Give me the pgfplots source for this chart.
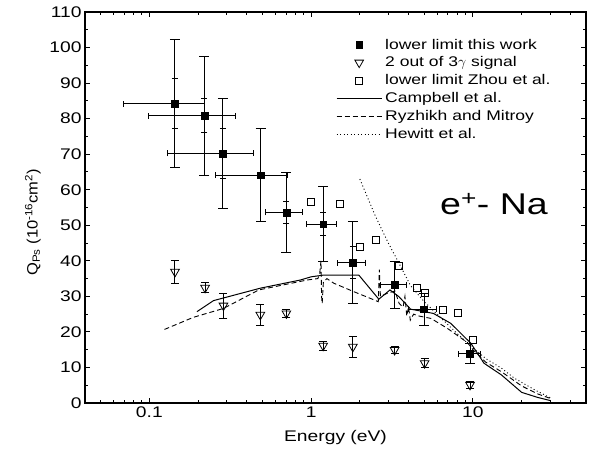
\documentclass[border=0pt]{standalone}
\usepackage{fontspec}
\setmainfont{Liberation Sans}[FakeStretch=1.25]
\newfontfamily\ylfont{Liberation Sans}[FakeStretch=1.1]
\usepackage{pgfplots}
\usepackage{pgfplotstable}
\pgfplotsset{compat=1.18}

% lower limit this work: E, Q, dE, dQ
\pgfplotstableread{
E Q dE dQ
0.144 84.2 0.075 18.0
0.219 80.8 0.120 16.7
0.285 70.2 0.155 15.5
0.487 64.1 0.230 13.0
0.703 53.6 0.180 11.2
1.186 50.3 0.250 10.5
1.81 39.5 0.360 11.6
3.28 33.2 0.600 6.6
4.99 26.4 1.000 4.5
9.6 13.8 1.500 2.8
}\thiswork
% inner (statistical) bars
\pgfplotstableread{
E Q dQ
0.144 84.2 7.0
0.219 80.8 4.8
0.285 70.2 7.0
0.703 53.6 3.0
1.186 50.3 3.2
1.81 39.5 4.5
}\inner
\pgfplotstableread{
E Q dQ
0.144 36.9 3.3
0.221 32.4 1.4
0.287 27.4 3.5
0.485 24.8 3.0
0.703 25.2 1.2
1.186 16.1 1.2
1.81 15.8 2.9
3.28 14.9 1.0
5.03 11.2 1.2
9.6 5.1 1.0
}\threegamma
\pgfplotstableread{
E Q
1.0 56.6
1.5 55.9
2.0 44.0
2.5 45.9
3.49 38.6
4.49 32.5
5.03 30.9
6.54 26.2
8.03 25.4
10.0 17.7
}\zhou

\begin{document}
\begin{tikzpicture}
\path[use as bounding box] (-85pt,-63pt) rectangle (509pt,403pt);
\begin{axis}[
    xmode=log,
    scale only axis,
    width=501pt, height=391pt,
    xmin=0.04, xmax=50,
    ymin=0, ymax=110,
    xtick={0.1,1,10},
    xticklabels={0.1,1,10},
    minor xtick={0.04,0.05,0.06,0.07,0.08,0.09,0.2,0.3,0.4,0.5,0.6,0.7,0.8,0.9,2,3,4,5,6,7,8,9,20,30,40,50},
    ytick={0,10,...,110},
    minor y tick num=1,
    tick pos=both,
    tick align=inside,
    major tick length=5pt,
    minor tick length=3pt,
    every tick/.style={black, line width=1pt},
    axis line style={line width=1.3pt},
    /pgf/number format/assume math mode=true,
    tick label style={font=\fontsize{15.4}{17}\selectfont},
    label style={font=\fontsize{15.4}{17}\selectfont},
    xlabel={Energy (eV)},
    ylabel={Q\textsubscript{Ps} (10\textsuperscript{-16}cm\textsuperscript{2})},
    xlabel style={at={(axis description cs:0.5,-0.087)}, anchor=center},
    ylabel style={at={(axis description cs:-0.104,0.462)}, anchor=center, font=\ylfont\fontsize{15}{17}\selectfont},
    legend image code/.code={\draw[mark repeat=2,mark phase=2,#1] plot coordinates {(0pt,0pt)(22.5pt,0pt)(45pt,0pt)};},
    legend cell align=left,
    legend style={draw=none, fill=none, at={(axis description cs:0.495,0.942)}, anchor=north west,
        font=\fontsize{14}{16}\selectfont, row sep=2.3pt, column sep=1pt},
]
% lower limit this work
\addplot[black, only marks, mark=square*, mark size=3.4pt,
    error bars/.cd, y dir=both, y explicit,
    error bar style={line width=1pt},
    error mark options={rotate=90, mark size=5pt, line width=1pt}]
    table[x=E, y=Q, y error=dQ] {\thiswork};
\addlegendentry{lower limit this work}
% 2 out of 3 gamma
\addplot[black, only marks, mark=triangle, mark size=5pt,
    mark options={rotate=180, fill=white, line width=0.8pt},
    error bars/.cd, y dir=both, y explicit,
    error bar style={line width=1pt},
    error mark options={rotate=90, mark size=4pt, line width=1pt}]
    table[x=E, y=Q, y error=dQ] {\threegamma};
\addlegendentry{2 out of 3$\gamma$ signal}
% Zhou et al.
\addplot[black, only marks, mark=square, mark size=3.5pt, mark options={fill=white, line width=0.8pt}]
    table[x=E, y=Q] {\zhou};
\addlegendentry{lower limit Zhou et al.}
% Campbell et al.
\addplot[black, line width=1pt] coordinates {
(0.197,25.7)(0.249,28.8)(0.485,32.3)(0.858,34.6)(1.0,35.5)(1.2,36.0)(1.97,36.0)
(2.62,29.2)(3.07,31.8)(3.49,29.9)(4.12,26.4)(5.7,25.2)(7.3,22.4)(9.71,16.8)
(11.7,11.2)(15,7.9)(20,3.0)(25,1.6)(30,0.7)};
\addlegendentry{Campbell et al.}
% Ryzhikh and Mitroy
\addplot[black, line width=0.9pt, dash pattern=on 5pt off 3pt] coordinates {
(0.124,20.7)(0.187,24.1)(0.287,26.6)(0.474,31.8)(0.944,34.6)(1.10,35.0)(1.13,36.5)
(1.15,40.0)(1.16,30.0)(1.17,28.0)(1.19,34.0)(1.25,35.0)(1.38,33.7)(1.84,31.3)
(2.39,29.2)(2.6,28.5)(2.64,37.5)(2.68,30.0)(3.0,31.0)(3.3,31.5)(3.5,28.0)(3.7,27.0)
(3.8,30.0)(3.9,24.5)(4.0,27.0)(4.1,23.3)(4.3,25.0)(4.6,24.5)(5.5,23.8)(6.95,21.0)
(9.25,17.0)(10,15.0)(12,11.5)(15,8.8)(20,4.8)(25,2.6)(30,1.3)};
\addlegendentry{Ryzhikh and Mitroy}
% Hewitt et al.
\addplot[black, line width=0.9pt, dash pattern=on 1pt off 2.5pt] coordinates {
(2.0,63.0)(2.5,52.5)(3.0,45.0)(3.41,40.2)(4.12,33.0)(5.0,28.5)(6.0,25.0)(8.0,19.5)
(10,15.5)(12,12.5)(15,9.8)(18,7.0)(20,5.8)(25,3.3)(30,1.5)};
\addlegendentry{Hewitt et al.}
% horizontal (energy) bars of this work
\addplot[black, only marks, mark=none, forget plot,
    error bars/.cd, x dir=both, x explicit,
    error bar style={line width=1pt},
    error mark options={rotate=90, mark size=3pt, line width=1pt}]
    table[x=E, y=Q, x error=dE] {\thiswork};
% inner error ticks
\addplot[black, only marks, mark=none, forget plot,
    error bars/.cd, y dir=both, y explicit,
    error bar style={line width=1pt},
    error mark options={rotate=90, mark size=3pt, line width=0.8pt}]
    table[x=E, y=Q, y error=dQ] {\inner};
\node at (axis cs:13.5,56) {\fontsize{30}{34}\selectfont e\textsuperscript{+}- Na};
\end{axis}
\end{tikzpicture}
\end{document}
